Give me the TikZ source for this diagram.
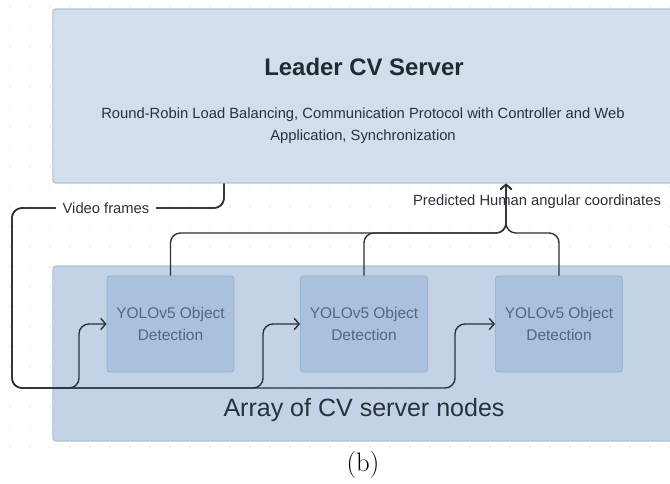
\documentclass[tikz,border=0pt]{standalone}
\usepackage{fontspec}
\newfontfamily\uifont{Liberation Sans}
\usetikzlibrary{arrows.meta,calc,positioning}
\definecolor{leaderfill}{HTML}{CFDCEB}
\definecolor{arrayfill}{HTML}{BED0E5}
\definecolor{yolofill}{HTML}{A9C1DD}
\definecolor{boxline}{HTML}{B2C3D8}
\definecolor{inkc}{HTML}{29313B}
\definecolor{yolotext}{HTML}{56667C}
\definecolor{dotc}{HTML}{DDE0E4}
\tikzset{
  flow/.style={-{Straight Barb[length=3.5pt,width=8pt]}, line width=1pt, draw=inkc, rounded corners=7pt},
  panel/.style={draw=boxline, line width=0.8pt, rectangle, rounded corners=2pt, minimum width=16.175cm},
  detector/.style={draw=yolofill!92!black, fill=yolofill, line width=0.6pt, rectangle, rounded corners=2pt,
    minimum width=3.175cm, minimum height=2.4cm, align=center, text=yolotext,
    font=\uifont\fontsize{11}{15.6}\selectfont},
  tag/.style={text=inkc, inner sep=2pt, font=\uifont\fontsize{10.5}{12}\selectfont}
}
\begin{document}
\begin{tikzpicture}[x=0.025cm, y=-0.025cm]
  \clip (0,0) rectangle (670,484);
  \fill[white] (0,0) rectangle (670,484);
  \foreach \x in {10,30,...,670}
    \foreach \y in {7,27,...,447}
      \fill[dotc] (\x,\y) circle (0.9);

  \node[panel, fill=leaderfill, fill opacity=0.92, minimum height=4.35cm] (leader) at (376.5,96) {};
  \node[text=inkc!85!black, font=\uifont\bfseries\fontsize{17}{20}\selectfont] (title) at (364,67) {Leader CV Server};
  \node[text=inkc, align=center, font=\uifont\fontsize{10.5}{15.6}\selectfont] (duties) at (363,126)
    {Round-Robin Load Balancing, Communication Protocol with Controller and Web\\Application, Synchronization};

  \node[panel, fill=arrayfill, fill opacity=0.92, minimum height=4.375cm] (cvarray) at (376.5,353.5) {};
  \node[detector] (y1) at (170.5,324) {YOLOv5 Object\\Detection};
  \node[detector] (y2) at (364,324) {YOLOv5 Object\\Detection};
  \node[detector] (y3) at (559,324) {YOLOv5 Object\\Detection};
  \node[text=inkc, font=\uifont\fontsize{17.8}{21}\selectfont] (arraytitle) at (364,410) {Array of CV server nodes};

  \coordinate (vfx) at (224,208);
  \coordinate (vfl) at (12,208);
  \coordinate (br1) at (79,388);
  \coordinate (br2) at (263,388);
  \coordinate (br3) at (455,388);
  \draw[flow] (leader.south -| vfx) |- (vfl) |- (br1) |- (y1.west);
  \draw[flow] (leader.south -| vfx) |- (vfl) |- (br2) |- (y2.west);
  \draw[flow] (leader.south -| vfx) |- (vfl) |- (br3) |- (y3.west);
  \node[tag, fill=white, inner xsep=5pt] (vflabel) at (106,208) {Video frames};

  \coordinate (jn) at (506,233);
  \node[tag] (predlabel) at (537,202) {Predicted Human angular coordinates};
  \draw[flow] (y1.north) |- (jn) -- (leader.south -| jn);
  \draw[flow] (y2.north) |- (jn) -- (leader.south -| jn);
  \draw[flow] (y3.north) |- (jn) -- (leader.south -| jn);

  \node[font=\fontsize{19}{23}\selectfont] (caption) at (363,465) {(b)};
\end{tikzpicture}
\end{document}
